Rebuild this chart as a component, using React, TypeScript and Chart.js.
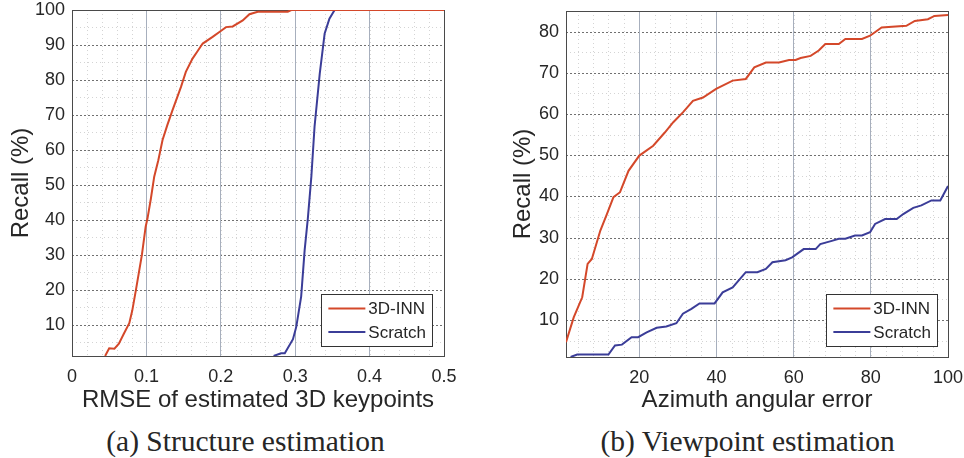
import React, { useEffect, useRef } from "react";
import { Chart, registerables } from "chart.js";

Chart.register(...registerables);

// ---------- Data ----------
const seriesNames = ["3D-INN", "Scratch"];

// (a) Structure estimation
const structRmse3DINN = [0.0445, 0.05, 0.057, 0.063, 0.07, 0.077, 0.081, 0.086, 0.094, 0.099, 0.1015, 0.106, 0.1105, 0.116, 0.1217, 0.128, 0.135, 0.1465, 0.153, 0.162, 0.168, 0.1757, 0.189, 0.2, 0.207, 0.216, 0.2295, 0.2385, 0.2497, 0.29, 0.2947, 0.5];
const structRecall3DINN = [1, 3.2, 3.1, 4.5, 7.5, 10.4, 14, 20, 30, 38, 40.4, 46, 52.3, 57, 62.8, 67, 71.3, 78, 82.3, 86.1, 88, 90.4, 92.3, 94, 95.1, 95.3, 97, 98.8, 99.5, 99.5, 100, 100];
const structRmseScratch = [0.271, 0.281, 0.286, 0.297, 0.3015, 0.308, 0.3127, 0.317, 0.3217, 0.326, 0.333, 0.3396, 0.346, 0.353, 0.5];
const structRecallScratch = [1, 1.8, 1.8, 5.8, 9.4, 18, 31.3, 40.4, 52.3, 66.6, 81.8, 93.3, 97.5, 100, 100];

// (b) Viewpoint estimation
const viewAngle3DINN = [1, 3, 5.2, 6.6, 7.7, 9.9, 11.6, 13.3, 15, 17.2, 20, 23.6, 26.6, 28.8, 31.3, 33.9, 36.5, 39.9, 44.2, 47.6, 49.8, 52.8, 56.2, 58.8, 60.5, 61.8, 64.4, 66.5, 68.2, 71.7, 73.4, 77.7, 79.8, 82.8, 89.2, 91.4, 94.8, 96.5, 100];
const viewRecall3DINN = [4.6, 10.6, 15.5, 23.6, 24.8, 31.7, 35.7, 39.8, 41, 46.2, 49.9, 52.3, 55.5, 58, 60.4, 63.2, 64, 66.1, 68.1, 68.5, 71.3, 72.5, 72.5, 73.1, 73.1, 73.6, 74.1, 75.4, 77, 77, 78.2, 78.2, 79, 81, 81.4, 82.6, 83, 83.8, 84];
const viewAngleScratch = [2.2, 3.9, 12, 13.7, 15.5, 18, 19.7, 21.9, 24.5, 27, 29.6, 31.3, 33.5, 35.6, 39.5, 41.6, 44.2, 47.6, 50.6, 52.8, 54.5, 57.9, 59.6, 62.6, 65.7, 66.9, 69.9, 71.7, 73.4, 75.9, 77.7, 79.8, 81.1, 83.7, 86.7, 88.4, 91, 93.1, 95.7, 98, 100];
const viewRecallScratch = [1, 1.6, 1.6, 3.8, 4, 5.8, 5.8, 7, 8.1, 8.4, 9.2, 11.5, 12.7, 14, 14, 16.7, 17.9, 21.6, 21.6, 22.4, 24, 24.5, 25.2, 27.2, 27.2, 28.4, 29.2, 29.7, 29.7, 30.5, 30.5, 31.3, 33.3, 34.5, 34.5, 35.7, 37.2, 37.8, 39, 39, 42.5];

// Ticks
const structXTicks = [0, 0.1, 0.2, 0.3, 0.4, 0.5];
const structYTicks = [10, 20, 30, 40, 50, 60, 70, 80, 90, 100];
const viewXTicks = [20, 40, 60, 80, 100];
const viewYTicks = [10, 20, 30, 40, 50, 60, 70, 80];

// ---------- Styles ----------
const RED = "#d4482a";
const BLUE = "#3b3d98";
const SANS = "'Liberation Sans', Arial, Helvetica, sans-serif";
const SERIF = "'Liberation Serif', 'Times New Roman', serif";
const TEXT = "#262626";

type PanelCfg = {
  xs: number[][];
  ys: number[][];
  xMin: number;
  xMax: number;
  yMin: number;
  yMax: number;
  xTicks: number[];
  yTicks: number[];
  minorX: number;
  minorY: number;
  xTitle: string;
  padding: { left: number; right: number; top: number; bottom: number };
  yAxisWidth: number;
  xAxisHeight: number;
  yTitlePad: number;
  legendInsetRight: number;
  legendInsetBottom: number;
};

const decorPlugin = (cfg: PanelCfg) => ({
  id: "matlabDecor",
  beforeDraw(chart: any) {
    const { ctx, chartArea: a, scales } = chart;
    const xs = scales.x;
    const ys = scales.y;
    ctx.save();
    // minor grid
    ctx.strokeStyle = "#d4d4d4";
    ctx.lineWidth = 1;
    ctx.setLineDash([1, 3]);
    const nx = Math.round(cfg.xMax / cfg.minorX);
    for (let i = 0; i <= nx; i++) {
      const v = i * cfg.minorX;
      if (v <= cfg.xMin || v >= cfg.xMax) continue;
      const px = Math.round(xs.getPixelForValue(v)) + 0.5;
      ctx.beginPath();
      ctx.moveTo(px, a.top);
      ctx.lineTo(px, a.bottom);
      ctx.stroke();
    }
    const ny = Math.round(cfg.yMax / cfg.minorY);
    for (let i = 0; i <= ny; i++) {
      const v = i * cfg.minorY;
      if (v <= cfg.yMin || v >= cfg.yMax) continue;
      const py = Math.round(ys.getPixelForValue(v)) + 0.5;
      ctx.beginPath();
      ctx.moveTo(a.left, py);
      ctx.lineTo(a.right, py);
      ctx.stroke();
    }
    // major horizontal grid (dotted)
    ctx.strokeStyle = "#707070";
    ctx.setLineDash([2, 2]);
    cfg.yTicks.forEach((v) => {
      if (v <= cfg.yMin || v >= cfg.yMax) return;
      const py = Math.round(ys.getPixelForValue(v)) + 0.5;
      ctx.beginPath();
      ctx.moveTo(a.left, py);
      ctx.lineTo(a.right, py);
      ctx.stroke();
    });
    ctx.restore();
  },
  beforeDatasetsDraw(chart: any) {
    const { ctx, chartArea: a } = chart;
    ctx.save();
    ctx.strokeStyle = "#4a4a4a";
    ctx.lineWidth = 1;
    ctx.setLineDash([]);
    ctx.strokeRect(Math.round(a.left) + 0.5, Math.round(a.top) + 0.5, Math.round(a.right - a.left), Math.round(a.bottom - a.top));
    ctx.restore();
  },
  afterDraw(chart: any) {
    const { ctx, chartArea: a } = chart;
    ctx.save();
    // legend
    ctx.font = `17px ${SANS}`;
    const tw = Math.max(...seriesNames.map((n) => ctx.measureText(n).width));
    const lineLen = 37;
    const w = 7 + lineLen + 3 + tw + 6;
    const h = 52;
    const right = a.right - cfg.legendInsetRight;
    const bottom = a.bottom - cfg.legendInsetBottom;
    const left = right - w;
    const top = bottom - h;
    ctx.fillStyle = "#ffffff";
    ctx.fillRect(left, top, w, h);
    ctx.strokeStyle = "#333333";
    ctx.lineWidth = 1;
    ctx.strokeRect(Math.round(left) + 0.5, Math.round(top) + 0.5, Math.round(w), Math.round(h));
    const colors = [RED, BLUE];
    seriesNames.forEach((n, i) => {
      const cy = top + 14.5 + i * 23.5;
      ctx.strokeStyle = colors[i];
      ctx.lineWidth = 2;
      ctx.beginPath();
      ctx.moveTo(left + 7, cy);
      ctx.lineTo(left + 7 + lineLen, cy);
      ctx.stroke();
      ctx.fillStyle = TEXT;
      ctx.textBaseline = "middle";
      ctx.textAlign = "left";
      ctx.fillText(n, left + 7 + lineLen + 3, cy + 1);
    });
    ctx.restore();
  },
});

function Panel({ cfg, style }: { cfg: PanelCfg; style: React.CSSProperties }) {
  const ref = useRef<HTMLCanvasElement | null>(null);
  useEffect(() => {
    if (!ref.current) return;
    const colors = [RED, BLUE];
    const chart = new Chart(ref.current, {
      type: "line",
      data: {
        datasets: seriesNames.map((name, k) => ({
          label: name,
          data: cfg.xs[k].map((x, i) => ({ x, y: cfg.ys[k][i] })),
          borderColor: colors[k],
          backgroundColor: colors[k],
          borderWidth: 2,
          pointRadius: 0,
          tension: 0,
          fill: false,
        })),
      },
      options: {
        animation: false,
        responsive: false,
        parsing: false as any,
        layout: { padding: cfg.padding },
        plugins: { legend: { display: false }, tooltip: { enabled: false } },
        scales: {
          x: {
            type: "linear",
            min: cfg.xMin,
            max: cfg.xMax,
            afterBuildTicks: (s: any) => {
              s.ticks = cfg.xTicks.map((v) => ({ value: v }));
            },
            afterFit: (s: any) => {
              s.height = cfg.xAxisHeight;
              s.paddingLeft = 0;
              s.paddingRight = 0;
            },
            ticks: {
              font: { size: 18, family: SANS },
              color: TEXT,
              padding: 10,
              maxRotation: 0,
              autoSkip: false,
              callback: (v: any) => String(v),
            },
            grid: { color: "#a7afbd", lineWidth: 1, drawTicks: false },
            border: { display: false },
            title: {
              display: true,
              text: cfg.xTitle,
              font: { size: 24, family: SANS },
              color: TEXT,
              padding: { top: 0, bottom: 0 },
            },
          },
          y: {
            type: "linear",
            min: cfg.yMin,
            max: cfg.yMax,
            afterBuildTicks: (s: any) => {
              s.ticks = cfg.yTicks.map((v) => ({ value: v }));
            },
            afterFit: (s: any) => {
              s.width = cfg.yAxisWidth;
              s.paddingTop = 0;
              s.paddingBottom = 0;
            },
            ticks: {
              font: { size: 18, family: SANS },
              color: TEXT,
              padding: 7,
              autoSkip: false,
              callback: (v: any) => String(v),
            },
            grid: { display: false, drawTicks: false },
            border: { display: false },
            title: {
              display: true,
              text: "Recall (%)",
              font: { size: 24, family: SANS },
              color: TEXT,
              padding: { top: cfg.yTitlePad, bottom: 0 },
            },
          },
        },
      } as any,
      plugins: [decorPlugin(cfg)],
    });
    return () => chart.destroy();
  }, [cfg]);
  return <canvas ref={ref} width={482} height={415} style={{ position: "absolute", ...style }} />;
}

const structCfg: PanelCfg = {
  xs: [structRmse3DINN, structRmseScratch],
  ys: [structRecall3DINN, structRecallScratch],
  xMin: 0,
  xMax: 0.5,
  yMin: 1,
  yMax: 100,
  xTicks: structXTicks,
  yTicks: structYTicks,
  minorX: 0.02,
  minorY: 5,
  xTitle: "RMSE of estimated 3D keypoints",
  padding: { left: 0, right: 38, top: 10, bottom: 0 },
  yAxisWidth: 72,
  xAxisHeight: 59,
  yTitlePad: 7,
  legendInsetRight: 12,
  legendInsetBottom: 10,
};

const viewCfg: PanelCfg = {
  xs: [viewAngle3DINN, viewAngleScratch],
  ys: [viewRecall3DINN, viewRecallScratch],
  xMin: 1,
  xMax: 100,
  yMin: 1,
  yMax: 85,
  xTicks: viewXTicks,
  yTicks: viewYTicks,
  minorX: 4,
  minorY: 5,
  xTitle: "Azimuth angular error",
  padding: { left: 0, right: 16, top: 11, bottom: 0 },
  yAxisWidth: 84,
  xAxisHeight: 58,
  yTitlePad: 27,
  legendInsetRight: 11,
  legendInsetBottom: 11,
};

export default function App() {
  return (
    <div style={{ position: "fixed", left: 0, top: 0, width: 964, height: 458, background: "#ffffff", overflow: "hidden" }}>
      <Panel cfg={structCfg} style={{ left: 0, top: 0 }} />
      <Panel cfg={viewCfg} style={{ left: 482, top: 0 }} />
      <div style={{ position: "absolute", left: 0, width: 491, top: 424, lineHeight: "34px", textAlign: "center", fontFamily: SERIF, fontSize: 29.5, color: TEXT, whiteSpace: "nowrap" }}>
        (a) Structure estimation
      </div>
      <div style={{ position: "absolute", left: 497.7, width: 500, top: 424, lineHeight: "34px", textAlign: "center", fontFamily: SERIF, fontSize: 29.5, color: TEXT, whiteSpace: "nowrap" }}>
        (b) Viewpoint estimation
      </div>
    </div>
  );
}
